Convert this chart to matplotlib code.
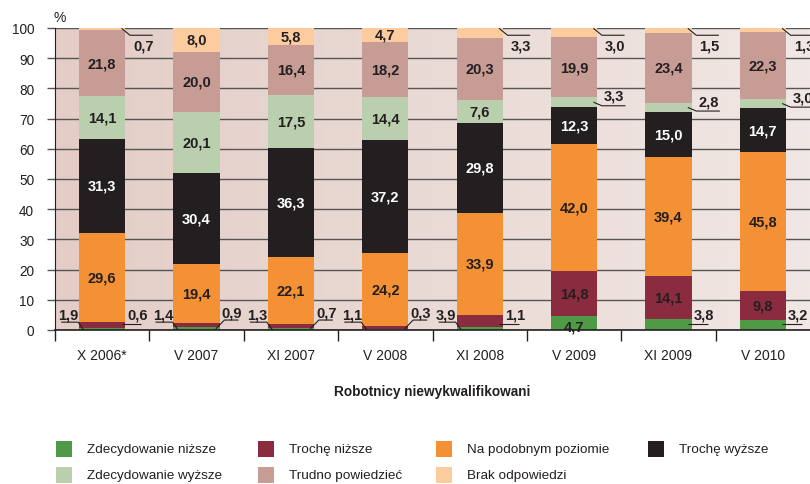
import matplotlib
matplotlib.use("Agg")
import matplotlib.pyplot as plt
import numpy as np
from matplotlib.patches import Rectangle
from matplotlib.colors import LinearSegmentedColormap

plt.rcParams['font.family'] = ['Liberation Sans', 'DejaVu Sans']

categories = ["X 2006*", "V 2007", "XI 2007", "V 2008", "XI 2008", "V 2009", "XI 2009", "V 2010"]
series_names = ["Zdecydowanie niższe", "Trochę niższe", "Na podobnym poziomie", "Trochę wyższe",
                "Zdecydowanie wyższe", "Trudno powiedzieć", "Brak odpowiedzi"]
zdec_nizsze = [0.6, 0.9, 0.7, 0.3, 1.1, 4.7, 3.8, 3.2]
troche_nizsze = [1.9, 1.4, 1.3, 1.1, 3.9, 14.8, 14.1, 9.8]
podobny = [29.6, 19.4, 22.1, 24.2, 33.9, 42.0, 39.4, 45.8]
troche_wyzsze = [31.3, 30.4, 36.3, 37.2, 29.8, 12.3, 15.0, 14.7]
zdec_wyzsze = [14.1, 20.1, 17.5, 14.4, 7.6, 3.3, 2.8, 3.0]
trudno = [21.8, 20.0, 16.4, 18.2, 20.3, 19.9, 23.4, 22.3]
brak = [0.7, 8.0, 5.8, 4.7, 3.3, 3.0, 1.5, 1.3]
yticks = [0, 10, 20, 30, 40, 50, 60, 70, 80, 90, 100]

series = [zdec_nizsze, troche_nizsze, podobny, troche_wyzsze, zdec_wyzsze, trudno, brak]
colors = ["#4f9a47", "#8b2b40", "#f39134", "#231f20", "#b9cfad", "#c69c95", "#fccc9f"]
text_colors = ["#231f20", "#231f20", "#231f20", "white", "#231f20", "#231f20", "#231f20"]

W, H = 810, 485
fig = plt.figure(figsize=(W / 100, H / 100), dpi=100)
ax = fig.add_axes([55 / W, 1 - 331 / H, 755 / W, 302 / H])

n = len(categories)
x = np.arange(n)
ax.set_xlim(-0.5, n - 0.5)
ax.set_ylim(0, 100)

# background gradient
grad = np.linspace(0, 1, 256).reshape(1, -1)
cmap = LinearSegmentedColormap.from_list("bg", ["#e3cdc6", "#f1e7e4"])
ax.imshow(grad, aspect='auto', cmap=cmap, extent=(0, 1, 0, 1), transform=ax.transAxes, zorder=0)

for yv in yticks:
    ax.axhline(yv, color="#555555", lw=1.0, zorder=1)

bw = 0.49
bottom = np.zeros(n)
for i, (vals, c) in enumerate(zip(series, colors)):
    ax.bar(x, vals, bw, bottom=bottom, color=c, zorder=3, linewidth=0)
    bottom = bottom + np.array(vals)

fs = 10.5
lc = "#231f20"
bottoms = np.cumsum([np.zeros(n)] + [np.array(s) for s in series], axis=0)

def lines(xs, ys):
    ax.plot(xs, ys, color=lc, lw=0.8, zorder=5, clip_on=False, solid_capstyle='butt')

for j in range(n):
    bl = x[j] - bw / 2
    br = x[j] + bw / 2
    for i in range(len(series)):
        v = series[i][j]
        b0 = bottoms[i][j]
        mid = b0 + v / 2
        lab = f"{v:.1f}".replace(".", ",")
        inside = v >= 4.5
        if i == 0 and j == 5:
            ax.text(x[j], b0 + 1.0, lab, ha='center', va='center', fontsize=fs, fontweight='bold',
                    color=text_colors[i], zorder=6)
            continue
        if inside:
            ax.text(x[j], mid, lab, ha='center', va='center', fontsize=fs, fontweight='bold',
                    color=text_colors[i], zorder=6)
            continue
        if i == 1:  # bottom-left label
            tx = bl - 0.11
            ax.text(tx, 5.0, lab, ha='center', va='center', fontsize=fs, fontweight='bold', color=lc, zorder=6)
            lines([bl - 0.19, bl - 0.01, bl + 0.05], [2.6, 2.6, 0.0])
        elif i == 0:  # bottom-right label
            tx = br + 0.13
            if j in (1, 2, 3):
                ax.text(tx, 5.9, lab, ha='center', va='center', fontsize=fs, fontweight='bold', color=lc, zorder=6)
                lines([br - 0.04, br + 0.05, br + 0.2], [0.4, 3.3, 3.3])
            else:
                ax.text(tx, 5.0, lab, ha='center', va='center', fontsize=fs, fontweight='bold', color=lc, zorder=6)
                lines([br - 0.04, br + 0.17], [2.1, 2.1])
        elif i == 6:  # top-right label
            uy = min(mid, 97.6)
            tx = br + 0.19
            if mid > uy + 0.5:
                lines([br - 0.04, br + 0.05, br + 0.29], [99.9, uy, uy])
            else:
                lines([br - 0.04, br + 0.29], [uy, uy])
            ax.text(tx, uy - 3.3, lab, ha='center', va='center', fontsize=fs, fontweight='bold', color=lc, zorder=6)
        elif i == 4:  # light green small
            uy = mid - 1.2
            lines([br - 0.04, br + 0.05, br + 0.3], [mid, uy, uy])
            ax.text(br + 0.18, uy + 3.3, lab, ha='center', va='center', fontsize=fs, fontweight='bold', color=lc, zorder=6)

ax.set_yticks(yticks)
ax.set_yticklabels([str(t) for t in yticks], fontsize=9.8, color="#231f20")
ax.tick_params(axis='y', length=6, width=1, color="#555555", pad=9)
ax.set_xticks(x)
ax.set_xticklabels(categories, fontsize=10, color="#231f20")
ax.tick_params(axis='x', which='major', length=0, pad=13)
ax.set_xticks(np.arange(-0.5, n - 0.5, 1.0), minor=True)
ax.tick_params(axis='x', which='minor', length=8, width=1, color="#231f20")

for s in ['top', 'right']:
    ax.spines[s].set_visible(False)
ax.spines['left'].set_color("#231f20")
ax.spines['bottom'].set_color("#231f20")
ax.spines['bottom'].set_linewidth(1.2)
ax.spines['left'].set_zorder(6)
ax.spines['bottom'].set_zorder(6)

fig.text(60 / W, 1 - 18 / H, "%", fontsize=10, color="#231f20", ha='center', va='center')
fig.text(432 / W, 1 - 392 / H, "Robotnicy niewykwalifikowani", fontsize=9.8, fontweight='bold',
         color="#231f20", ha='center', va='center')

# legend (manual layout)
leg_pos = [(56, 450), (258, 450), (436, 450), (648, 450), (56, 476), (258, 476), (436, 476)]
for (px, py), name, c in zip(leg_pos, series_names, colors):
    fig.patches.append(Rectangle((px / W, 1 - (py + 8) / H), 16 / W, 16 / H, transform=fig.transFigure,
                                 facecolor=c, edgecolor='none'))
    fig.text((px + 31) / W, 1 - py / H, name, fontsize=9.7, color="#231f20", ha='left', va='center')

fig.savefig("out.png", dpi=100)
